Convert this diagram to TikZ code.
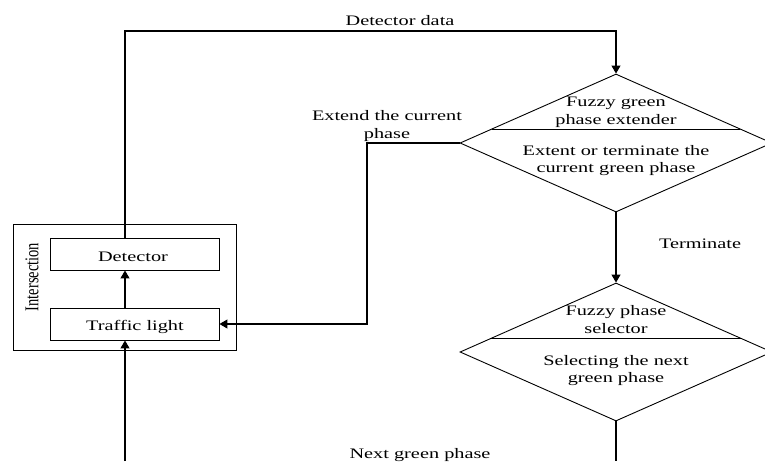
\documentclass[tikz,border=0pt]{standalone}
\usepackage{fontspec}
\setmainfont{Liberation Serif}
\usetikzlibrary{shapes.geometric,arrows.meta,calc}
\newcommand\wtxt[1]{\scalebox{1.4}[1]{\begin{tabular}{@{}c@{}}#1\end{tabular}}}
\newcommand\wone[1]{\scalebox{1.4}[1]{#1}}
\tikzset{
  txt/.style={font=\fontsize{14.5}{17.5}\selectfont, inner sep=0pt},
  boxnode/.style={draw, line width=0.9pt, minimum width=169pt, minimum height=32pt, inner sep=0pt},
  decision/.style={draw, diamond, line width=0.9pt, minimum width=312pt, minimum height=138pt, inner sep=0pt},
  arr/.style={line width=1.1pt, -{Triangle[length=8pt,width=9pt]}},
  ln/.style={line width=1.1pt}
}
\begin{document}
\begin{tikzpicture}[x=1pt,y=-1pt]
\useasboundingbox (0,0) rectangle (765,461);
\clip (0,0) rectangle (765,461);
% intersection group
\node[draw, line width=0.9pt, minimum width=223pt, minimum height=126pt, inner sep=0pt] (inter) at (124.5,287) {};
\node[boxnode] (det) at (134.5,254) {};
\node[boxnode] (tl) at (134.5,324) {};
\node[txt, anchor=base] (dettxt) at (133,261) {\wone{Detector}};
\node[txt, anchor=base] (tltxt) at (135,330.5) {\wone{Traffic light}};
\node[txt, rotate=90] (intertxt) at (32,277) {\scalebox{1}[1.35]{Intersection}};
\coordinate (col) at (125,0);
% diamonds
\node[decision] (d1) at (616,143) {};
\node[decision] (d2) at (616,352) {};
\draw[line width=0.8pt] (491.7,129) -- (740.3,129);
\draw[line width=0.8pt] (491.2,338) -- (740.8,338);
\node[txt] (d1a) at (616,112) {\wtxt{Fuzzy green\\phase extender}};
\node[txt] (d1b) at (616,160.5) {\wtxt{Extent or terminate the\\current green phase}};
\node[txt] (d2a) at (616,321) {\wtxt{Fuzzy phase\\selector}};
\node[txt] (d2b) at (616,370.5) {\wtxt{Selecting the next\\green phase}};
% labels
\node[txt, anchor=base] (ldd) at (400,25) {\wone{Detector data}};
\node[txt] (lext) at (387,126) {\wtxt{Extend the current\\phase}};
\node[txt, anchor=base] (lterm) at (700,248) {\wone{Terminate}};
\node[txt, anchor=base] (lnext) at (420,458) {\wone{Next green phase}};
% connectors
\coordinate (dtop) at (616,31);
\coordinate (ext) at (367,0);
\coordinate (bin) at (125,461);
\coordinate (bout) at (616,461);
\draw[arr] (det.north -| col) |- (dtop) -- (d1.north);
\draw[arr] (tl.north -| col) -- (det.south -| col);
\draw[arr] (bin) -- (tl.south -| col);
\draw[arr] (d1.west) -- (d1.west -| ext) |- (tl.east);
\draw[arr] (d1.south) -- (d2.north);
\draw[ln] (d2.south) -- (bout);
\end{tikzpicture}
\end{document}
